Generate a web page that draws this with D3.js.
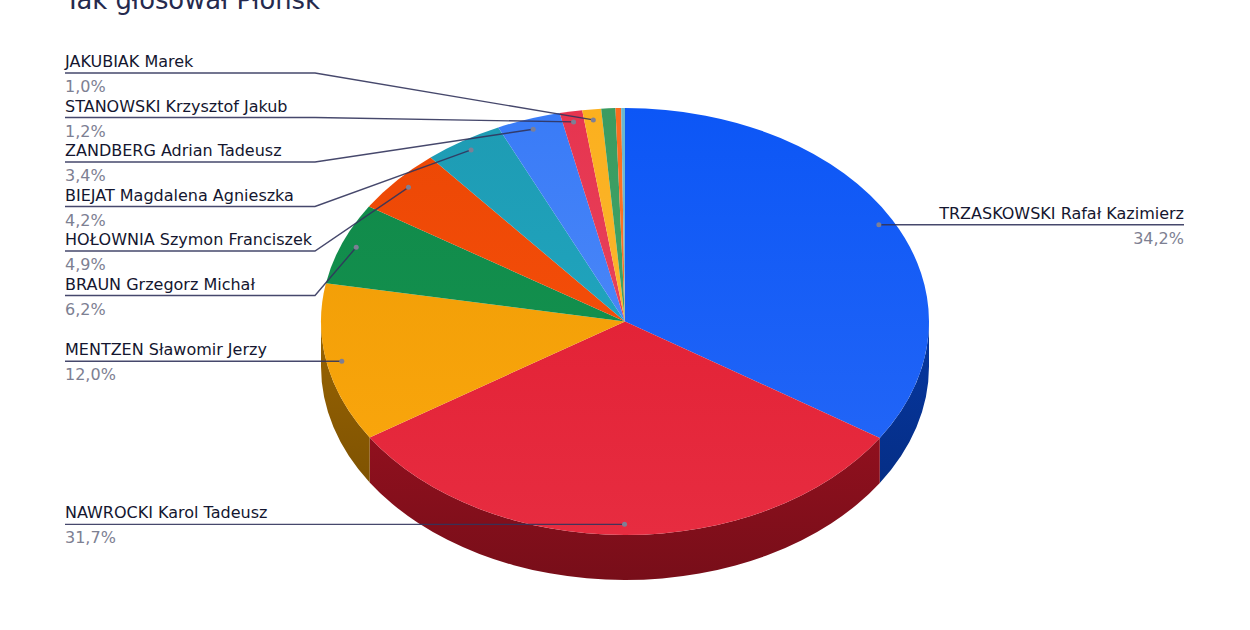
<!DOCTYPE html>
<html>
<head>
<meta charset="utf-8">
<script src="https://cdn.jsdelivr.net/npm/d3@7"></script>
<style>
html, body { margin: 0; padding: 0; background: #fff; }
svg { display: block; }
text { font-family: "DejaVu Sans", sans-serif; }
</style>
</head>
<body>
<svg id="chart" width="1250" height="630"></svg>
<script>
let chartTitle = "Tak głosował Płońsk";

// clockwise from 12 o'clock, the last slices have no label in the picture
let names = ["TRZASKOWSKI Rafał Kazimierz", "NAWROCKI Karol Tadeusz", "MENTZEN Sławomir Jerzy", "BRAUN Grzegorz Michał",
	"HOŁOWNIA Szymon Franciszek", "BIEJAT Magdalena Agnieszka", "ZANDBERG Adrian Tadeusz", "STANOWSKI Krzysztof Jakub",
	"JAKUBIAK Marek", "", "", ""];
let values = [34.2, 31.7, 12.0, 6.2, 4.9, 4.2, 3.4, 1.2, 1.0, 0.75, 0.3, 0.2];
let colors = ["#1f63f7", "#e62539", "#fca506", "#12924f", "#fb4d06", "#20a7c1", "#4f8af8", "#e8475f", "#fbb733", "#3fa768", "#fb7a33", "#7cc0d4"];

let cx = 625, cy = 321.5, rx = 304, ry = 213.5, depth = 45;
let svg = d3.select("#chart");
let defs = svg.append("defs");
// keeps the hue and saturation, darker() goes too muddy on the walls
let dim = (c, k) => { let h = d3.hsl(c); h.l *= k; return h.formatHex(); };

let pie = d3.pie().sort(null).value((d) => d.value);
let slices = pie(values.map((v, i) => ({value: v, name: names[i], color: colors[i], i: i})));

// slice angles run clockwise from the top, same as d3.arc
let px = (a, f=1) => cx + rx * f * Math.sin(a);
let py = (a, f=1) => cy - ry * f * Math.cos(a);

svg.append("text")
	.attr("x", 65).attr("y", 9)
	.attr("font-size", 25.8)
	.attr("fill", "#252a4e")
	.text(chartTitle);

// outer wall, only the part between 3 and 9 o'clock can be seen
let walls = svg.append("g");
slices.forEach((s) => {
	let a0 = Math.max(s.startAngle, Math.PI/2), a1 = Math.min(s.endAngle, 3*Math.PI/2);
	if (a1 <= a0)
		return;
	let id = "wall" + s.data.i;
	let g = defs.append("linearGradient").attr("id", id)
		.attr("x1", 0).attr("y1", 0).attr("x2", 0).attr("y2", 1);
	g.append("stop").attr("offset", "0%").attr("stop-color", dim(s.data.color, 0.6));
	g.append("stop").attr("offset", "100%").attr("stop-color", dim(s.data.color, 0.5));
	let p = `M${px(a0)},${py(a0)}A${rx},${ry} 0 0 1 ${px(a1)},${py(a1)}` +
		`L${px(a1)},${py(a1)+depth}A${rx},${ry} 0 0 0 ${px(a0)},${py(a0)+depth}Z`;
	walls.append("path").attr("d", p).attr("fill", `url(#${id})`);
});

// top face, the circle squashed to the ellipse
let arc = d3.arc().innerRadius(0).outerRadius(rx);
let face = svg.append("g").attr("transform", `translate(${cx},${cy}) scale(1,${ry/rx})`);
slices.forEach((s) => {
	let id = "face" + s.data.i;
	let g = defs.append("linearGradient").attr("id", id).attr("gradientUnits", "userSpaceOnUse")
		.attr("x1", 0).attr("y1", -rx).attr("x2", 0).attr("y2", rx);
	g.append("stop").attr("offset", "0%").attr("stop-color", dim(s.data.color, 0.93));
	g.append("stop").attr("offset", "100%").attr("stop-color", dim(s.data.color, 1.03));
	face.append("path").attr("d", arc(s)).attr("fill", `url(#${id})`);
});

// labels: the crowded ones stack from the top, the rest sit on their tick height
let rowTop = 73, rowStep = 44.5;
let leftStack = slices.filter((s) => s.data.name && s.data.i >= 3).reverse();
let line = d3.line();
slices.filter((s) => s.data.name).forEach((s) => {
	let mid = (s.startAngle + s.endAngle) / 2;
	let tx = px(mid, 0.95), ty = py(mid, 0.95);
	let right = mid < Math.PI;
	let row = leftStack.indexOf(s);
	let y = row >= 0 ? rowTop + row*rowStep : ty;
	let xEnd = right ? 1184 : 65, xBend = right ? 1184 : 315;
	let pts = [[xEnd, y], [xBend, y], [tx, ty]];
	svg.append("path").attr("d", line(pts))
		.attr("fill", "none").attr("stroke", "#32345c").attr("stroke-width", 1.4).attr("stroke-opacity", 0.9);
	svg.append("circle").attr("cx", tx).attr("cy", ty).attr("r", 2.5).attr("fill", "#7d7f95");
	svg.append("text")
		.attr("x", xEnd).attr("y", y-6)
		.attr("text-anchor", right ? "end" : "start")
		.attr("font-size", 16).attr("fill", "#14162f")
		.text(s.data.name);
	svg.append("text")
		.attr("x", xEnd).attr("y", y+19)
		.attr("text-anchor", right ? "end" : "start")
		.attr("font-size", 16).attr("fill", "#7d8092")
		.text(s.data.value.toFixed(1).replace(".", ",") + "%");
});
</script>
</body>
</html>
